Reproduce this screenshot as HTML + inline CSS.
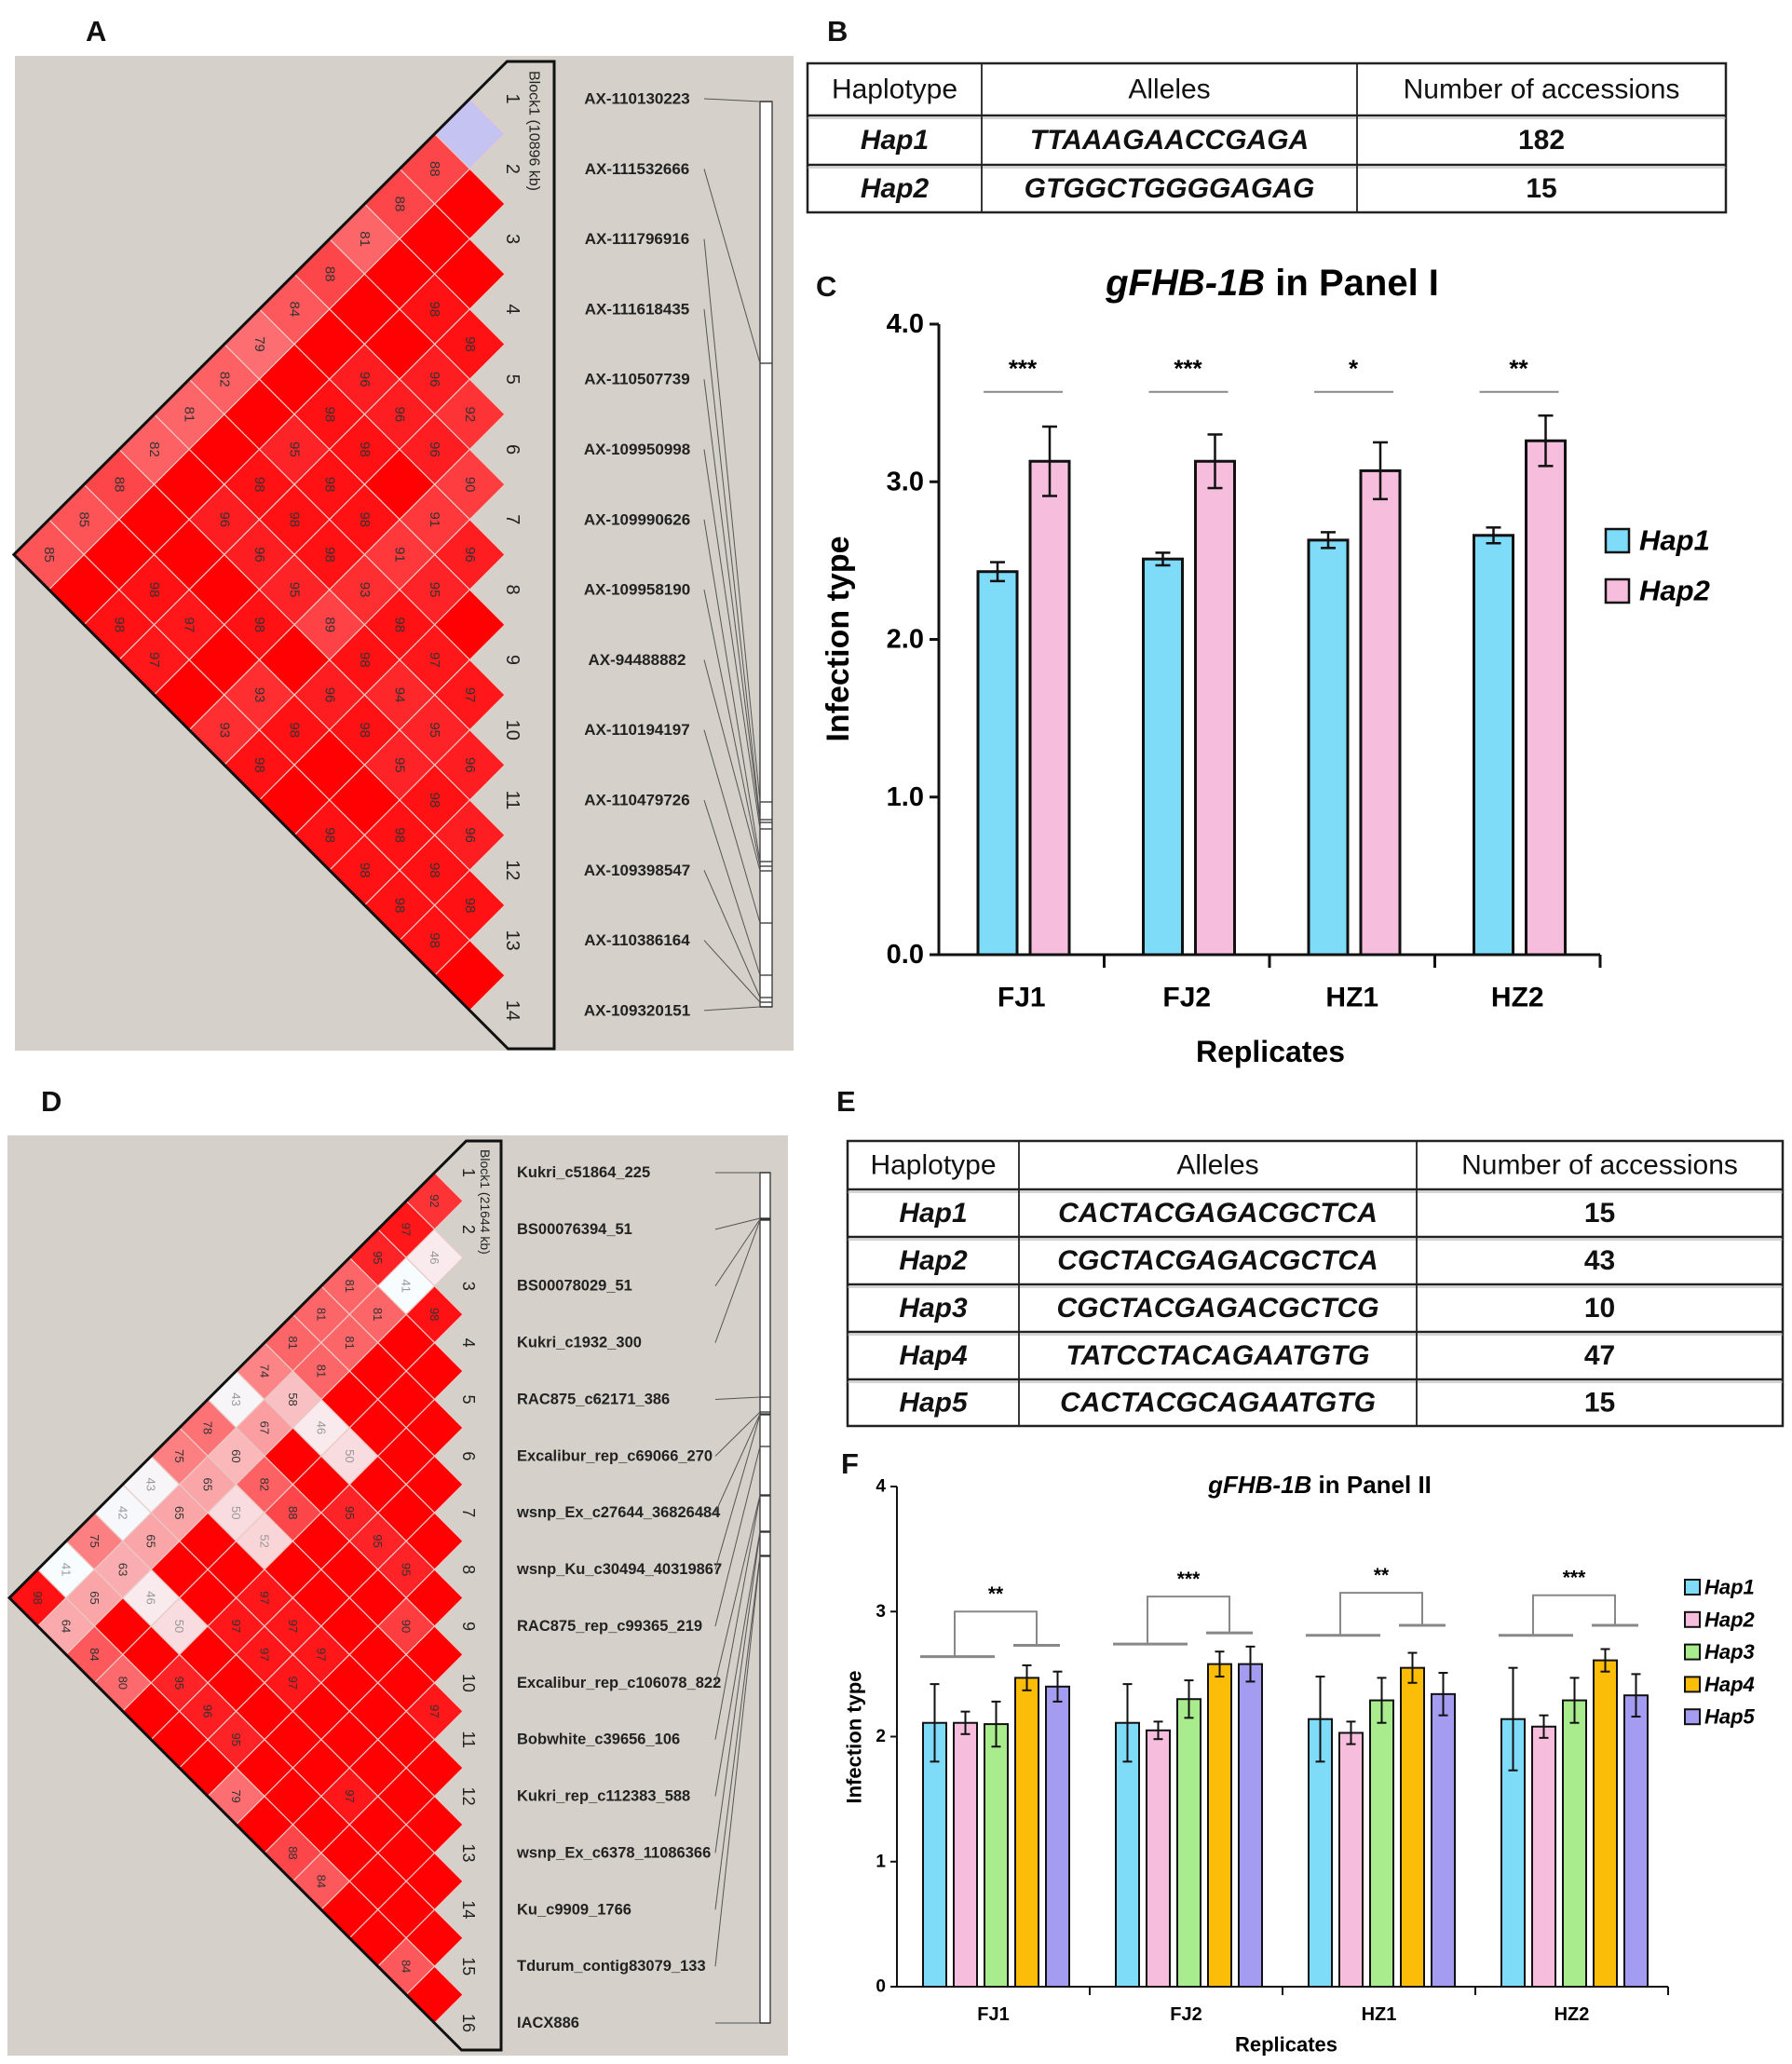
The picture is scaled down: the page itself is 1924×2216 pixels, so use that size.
<!DOCTYPE html>
<html><head><meta charset="utf-8">
<style>
html,body{margin:0;padding:0;background:#fff;}
svg{display:block;font-family:"Liberation Sans",Arial,sans-serif;}
</style></head>
<body>
<svg id="fig" width="1924" height="2216" viewBox="0 0 1924 2216" xmlns="http://www.w3.org/2000/svg">
<rect x="0" y="0" width="1924" height="2216" fill="#fff"/>
<g id="panelA"></g>
<g id="panelD"></g>
<g id="panelB"></g>
<g id="panelE"></g>
<g id="panelC"></g>
<g id="panelF"></g>
<g font-weight="bold" font-size="31" fill="#111">
<text x="92" y="44">A</text>
<text x="888" y="44">B</text>
<text x="876" y="318">C</text>
<text x="44" y="1193">D</text>
<text x="898" y="1193">E</text>
<text x="903" y="1582">F</text>
</g>
</svg>
<script>
const NS="http://www.w3.org/2000/svg";
// ---------- DATA ----------
const markersA=["AX-110130223","AX-111532666","AX-111796916","AX-111618435","AX-110507739","AX-109950998","AX-109990626","AX-109958190","AX-94488882","AX-110194197","AX-110479726","AX-109398547","AX-110386164","AX-109320151"];
const physA=[109,390,861,880,883,890,925,930,935,991,1047,1071,1076,1081];
const ldA=[[1,3,88],[1,4,88],[1,5,81],[1,6,88],[1,7,84],[1,8,79],[1,9,82],[1,10,81],[1,11,82],[1,12,88],[1,13,85],[1,14,85],
[3,5,98],[4,5,98],[3,7,96],[4,6,96],[5,6,92],[3,8,98],[4,7,96],[3,9,95],[4,8,98],[5,7,96],[3,10,98],[4,9,98],[6,7,90],
[3,11,96],[4,10,98],[5,9,98],[6,8,91],[4,11,96],[5,10,98],[6,9,91],[7,8,96],[3,13,98],[5,11,95],[6,10,93],[7,9,95],
[3,14,98],[4,13,97],[5,12,98],[6,11,89],[7,10,98],[4,14,97],[7,11,98],[8,10,97],[6,13,93],[7,12,96],[8,11,94],[9,10,97],
[6,14,93],[7,13,98],[8,12,98],[9,11,95],[7,14,98],[9,12,95],[10,11,96],[10,12,98],[9,14,98],[10,13,98],[11,12,96],
[10,14,98],[11,13,98],[11,14,98],[12,13,98],[12,14,98]];
const lowLodA=[[1,2]];
const markersD=["Kukri_c51864_225","BS00076394_51","BS00078029_51","Kukri_c1932_300","RAC875_c62171_386","Excalibur_rep_c69066_270","wsnp_Ex_c27644_36826484","wsnp_Ku_c30494_40319867","RAC875_rep_c99365_219","Excalibur_rep_c106078_822","Bobwhite_c39656_106","Kukri_rep_c112383_588","wsnp_Ex_c6378_11086366","Ku_c9909_1766","Tdurum_contig83079_133","IACX886"];
const physD=[1259,1308,1309,1310,1500,1516,1518,1519,1553,1605,1606,1644,1645,1670,1671,2172];
const ldD=[[1,2,92],[1,3,97],[2,3,46],[1,4,95],[1,5,81],[2,4,41],[1,6,81],[2,5,81],[3,4,98],[1,7,81],[2,6,81],[1,8,74],[2,7,81],
[1,9,43],[2,8,58],[1,10,78],[2,9,67],[3,8,46],[1,11,75],[2,10,60],[4,8,50],[1,12,43],[2,11,65],[3,10,82],[1,13,42],[2,12,65],
[3,11,50],[4,10,88],[5,9,95],[1,14,75],[2,13,65],[4,11,52],[6,9,95],[1,15,41],[2,14,63],[7,9,95],[1,16,98],[2,15,65],[3,14,46],
[5,12,97],[2,16,64],[4,14,50],[5,13,97],[6,12,97],[8,10,90],[3,16,84],[6,13,97],[7,12,97],[4,16,80],[5,15,95],[7,13,97],
[10,11,97],[6,15,96],[7,15,95],[8,16,79],[10,14,97],[10,16,88],[11,16,84],[14,16,84]];
const groups=["FJ1","FJ2","HZ1","HZ2"];
const cHap1=[2.43,2.51,2.63,2.66];
const cHap1Err=[0.06,0.04,0.05,0.05];
const cHap2=[3.13,3.13,3.07,3.26];
const cHap2Err=[0.22,0.17,0.18,0.16];
const cStars=["***","***","*","**"];
const cTicks=["0.0","1.0","2.0","3.0","4.0"];
const fHaps=["Hap1","Hap2","Hap3","Hap4","Hap5"];
const fVals=[[2.11,2.11,2.10,2.47,2.40],[2.11,2.05,2.30,2.58,2.58],[2.14,2.03,2.29,2.55,2.34],[2.14,2.08,2.29,2.61,2.33]];
const fErrs=[[0.31,0.09,0.18,0.10,0.12],[0.31,0.07,0.15,0.10,0.14],[0.34,0.09,0.18,0.12,0.17],[0.41,0.09,0.18,0.09,0.17]];
const fBrLeft=[2.64,2.74,2.81,2.81];
const fBrRight=[2.73,2.83,2.89,2.89];
const fBrTop=[3.00,3.12,3.15,3.13];
const fStars=["**","***","**","***"];
const fTicks=["0","1","2","3","4"];
const tableB=[["Hap1","TTAAAGAACCGAGA","182"],["Hap2","GTGGCTGGGGAGAG","15"]];
const tableE=[["Hap1","CACTACGAGACGCTCA","15"],["Hap2","CGCTACGAGACGCTCA","43"],["Hap3","CGCTACGAGACGCTCG","10"],["Hap4","TATCCTACAGAATGTG","47"],["Hap5","CACTACGCAGAATGTG","15"]];

const fColors=["#7fdcf8","#f6bddc","#a9ec8e","#fbbd08","#a39cf0"];

function el(parent,tag,attrs,text){const e=document.createElementNS(NS,tag);for(const k in attrs)e.setAttribute(k,attrs[k]);if(text!==undefined)e.textContent=text;parent.appendChild(e);return e;}

function ldColor(v){const t=Math.min(1,Math.max(0,(100-v)/60));const g=Math.round(255*Math.pow(t,0.8));const r=Math.round(255-8*t);return `rgb(${r},${g},${Math.min(255,g+3)})`;}

function drawLD(g,cfg){
  const n=cfg.markers.length,h=cfg.s/2;
  el(g,'rect',{x:cfg.bg[0],y:cfg.bg[1],width:cfg.bg[2],height:cfg.bg[3],fill:'#d5d1ca'});
  const yi=i=>cfg.y1+(i-1)*cfg.s;
  const map={};cfg.ld.forEach(d=>map[d[0]+'_'+d[1]]=d[2]);
  const low={};cfg.low.forEach(d=>low[d[0]+'_'+d[1]]=1);
  for(let i=1;i<n;i++)for(let j=i+1;j<=n;j++){
    const cx=cfg.xR-(j-i)*h,cy=(yi(i)+yi(j))/2;
    const v=map[i+'_'+j];const val=v===undefined?100:v;
    const fill=low[i+'_'+j]?'#c5c3f2':ldColor(val);
    const p=el(g,'polygon',{points:`${cx},${cy-h} ${cx+h},${cy} ${cx},${cy+h} ${cx-h},${cy}`,fill:fill,stroke:'#e9c9c4','stroke-width':1.2});
    
    
    if(v!==undefined){
      const t=el(g,'text',{x:cx,y:cy,'font-size':cfg.fs,fill:val<55?'#999':'#333','text-anchor':'middle','dominant-baseline':'central',transform:`rotate(90 ${cx} ${cy})`},String(v));
      
      
    }
  }
  const ax=cfg.xR-n*h,ay=(yi(1)+yi(n))/2;
  const tx=cfg.xR-h+(yi(1)-cfg.top),bx=cfg.xR-h+(cfg.bottom-yi(n));
  const o=el(g,'polygon',{points:`${ax},${ay} ${tx},${cfg.top} ${cfg.boxX},${cfg.top} ${cfg.boxX},${cfg.bottom} ${bx},${cfg.bottom}`,fill:'none',stroke:'#111','stroke-width':3});
  
  
  for(let i=1;i<=n;i++){
    const x=cfg.xR+cfg.numDx,y=yi(i);
    const t=el(g,'text',{x:x,y:y,'font-size':cfg.fs+5,fill:'#222','text-anchor':'middle','dominant-baseline':'central',transform:`rotate(90 ${x} ${y})`},String(i));
    
    
  }
  const bt=el(g,'text',{x:cfg.blockX,y:cfg.blockY,'font-size':cfg.fs+1,fill:'#222','dominant-baseline':'central',transform:`rotate(90 ${cfg.blockX} ${cfg.blockY})`},cfg.blockText);
  
  
  el(g,'rect',{x:cfg.barX,y:cfg.phys[0],width:cfg.barW,height:cfg.phys[n-1]-cfg.phys[0],fill:'#fff',stroke:'#333','stroke-width':1.3});
  for(let i=0;i<n;i++){
    const y=yi(i+1);
    const lab=el(g,'text',{x:cfg.labX,y:y,'font-size':cfg.labFs,'font-weight':'bold',fill:'#222','text-anchor':cfg.labAnchor,'dominant-baseline':'central'},cfg.markers[i]);
    
    
    const ln=el(g,'line',{x1:cfg.lineX,y1:y,x2:cfg.barX,y2:cfg.phys[i],stroke:'#555','stroke-width':1});
    
    
    el(g,'line',{x1:cfg.barX,y1:cfg.phys[i],x2:cfg.barX+cfg.barW,y2:cfg.phys[i],stroke:'#333','stroke-width':1.3});
  }
}
drawLD(document.getElementById('panelA'),{markers:markersA,ld:ldA,low:lowLodA,phys:physA,y1:106,s:75.3,xR:542,top:66,bottom:1126,boxX:595,
 bg:[16,60,836,1068],fs:15,numDx:8,blockX:573,blockY:76,blockText:"Block1 (10896 kb)",barX:816,barW:13,labX:684,labAnchor:'middle',labFs:17,lineX:756});
drawLD(document.getElementById('panelD'),{markers:markersD,ld:ldD,low:[],phys:physD,y1:1259,s:60.87,xR:497,top:1225,bottom:2201,boxX:538,
 bg:[8,1219,838,988],fs:13,numDx:6,blockX:521,blockY:1234,blockText:"Block1 (21644 kb)",barX:816,barW:11,labX:555,labAnchor:'start',labFs:16.5,lineX:768});

function drawTable(g,x0,x1,ys,cols,rows,fs){
  const head=["Haplotype","Alleles","Number of accessions"];
  const xs=[x0,...cols,x1];
  el(g,'rect',{x:x0,y:ys[0],width:x1-x0,height:ys[ys.length-1]-ys[0],fill:'#fff',stroke:'#222','stroke-width':2.5});
  ys.slice(1,-1).forEach(y=>{el(g,'line',{x1:x0,y1:y,x2:x1,y2:y,stroke:'#222','stroke-width':2.5});el(g,'line',{x1:x0,y1:y+3,x2:x1,y2:y+3,stroke:'#aaa','stroke-width':1});});
  cols.forEach(x=>el(g,'line',{x1:x,y1:ys[0],x2:x,y2:ys[ys.length-1],stroke:'#222','stroke-width':1.8}));
  const all=[head,...rows];
  all.forEach((r,ri)=>{
    const cy=(ys[ri]+ys[ri+1])/2;
    r.forEach((c,ci)=>{
      const t=el(g,'text',{x:(xs[ci]+xs[ci+1])/2,y:cy,'font-size':fs,'text-anchor':'middle','dominant-baseline':'central',fill:'#111',
        'font-style':(ri>0&&ci<2)?'italic':'normal','font-weight':ri>0?'bold':'normal'},c);
      
      
    });
  });
}
drawTable(document.getElementById('panelB'),867,1853,[68,124,177,228],[1054,1457],tableB,30);
drawTable(document.getElementById('panelE'),910,1914,[1225,1277,1328,1379,1430,1481,1531],[1094,1521],tableE,30);

(function(){
  const g=document.getElementById('panelC');
  const X0=1008,Y0=1025,Y4=348,GW=177.5;
  const y=v=>Y0-v*(Y0-Y4)/4;
  el(g,'text',{x:1366,y:304,'font-size':40,'font-weight':'bold','text-anchor':'middle','dominant-baseline':'central'}).innerHTML='<tspan font-style="italic">gFHB-1B</tspan> in Panel I';
  cTicks.forEach((t,i)=>{el(g,'line',{x1:X0-10,y1:y(i),x2:X0,y2:y(i),stroke:'#111','stroke-width':3});
    const tt=el(g,'text',{x:X0-16,y:y(i),'font-size':29,'font-weight':'bold','text-anchor':'end','dominant-baseline':'central'},t);
    });
  groups.forEach((gname,i)=>{
    const xg=X0+i*GW;
    [[cHap1,cHap1Err,'#7fdcf8',42],[cHap2,cHap2Err,'#f6bddc',98]].forEach(([vals,errs,col,off])=>{
      const b=el(g,'rect',{x:xg+off,y:y(vals[i]),width:42,height:Y0-y(vals[i]),fill:col,stroke:'#111','stroke-width':3});
      
      const cx=xg+off+21;
      el(g,'line',{x1:cx,y1:y(vals[i]+errs[i]),x2:cx,y2:y(vals[i]-errs[i]),stroke:'#111','stroke-width':2.5});
      el(g,'line',{x1:cx-8,y1:y(vals[i]+errs[i]),x2:cx+8,y2:y(vals[i]+errs[i]),stroke:'#111','stroke-width':2.5});
      el(g,'line',{x1:cx-8,y1:y(vals[i]-errs[i]),x2:cx+8,y2:y(vals[i]-errs[i]),stroke:'#111','stroke-width':2.5});
    });
    el(g,'line',{x1:xg+48,y1:y(3.57),x2:xg+133,y2:y(3.57),stroke:'#888','stroke-width':2});
    const s=el(g,'text',{x:xg+90,y:y(3.72),'font-size':26,'font-weight':'bold','text-anchor':'middle','dominant-baseline':'central'},cStars[i]);
    
    el(g,'line',{x1:xg+GW,y1:Y0,x2:xg+GW,y2:Y0+14,stroke:'#111','stroke-width':3});
    const xl=el(g,'text',{x:xg+GW/2,y:1071,'font-size':30,'font-weight':'bold','text-anchor':'middle','dominant-baseline':'central'},gname);
    
  });
  el(g,'line',{x1:X0,y1:Y4,x2:X0,y2:Y0,stroke:'#111','stroke-width':3});
  el(g,'line',{x1:X0,y1:Y0,x2:X0+4*GW,y2:Y0,stroke:'#111','stroke-width':3});
  const yl=el(g,'text',{x:900,y:686,'font-size':34,'font-weight':'bold','text-anchor':'middle','dominant-baseline':'central',transform:'rotate(-90 900 686)'},'Infection type');
  
  const xt=el(g,'text',{x:1364,y:1129,'font-size':32,'font-weight':'bold','text-anchor':'middle','dominant-baseline':'central'},'Replicates');
  
  [['Hap1','#7fdcf8',580],['Hap2','#f6bddc',634]].forEach(([n,c,yy])=>{
    const r=el(g,'rect',{x:1724,y:yy-12,width:25,height:25,fill:c,stroke:'#111','stroke-width':2.5});
    
    const t=el(g,'text',{x:1760,y:yy,'font-size':31,'font-weight':'bold','font-style':'italic','dominant-baseline':'central'},n);
    
  });
})();

(function(){
  const g=document.getElementById('panelF');
  const X0=963,Y0=2133,Y4=1596,GW=207;
  const y=v=>Y0-v*(Y0-Y4)/4;
  el(g,'text',{x:1417,y:1594,'font-size':26,'font-weight':'bold','text-anchor':'middle','dominant-baseline':'central'}).innerHTML='<tspan font-style="italic">gFHB-1B</tspan> in Panel II';
  fTicks.forEach((t,i)=>{el(g,'line',{x1:X0-7,y1:y(i),x2:X0,y2:y(i),stroke:'#111','stroke-width':2});
    const tt=el(g,'text',{x:X0-12,y:y(i),'font-size':19,'font-weight':'bold','text-anchor':'end','dominant-baseline':'central'},t);
    });
  groups.forEach((gname,i)=>{
    const xg=X0+i*GW;
    fVals[i].forEach((v,k)=>{
      const bx=xg+28+k*33;
      const b=el(g,'rect',{x:bx,y:y(v),width:25,height:Y0-y(v),fill:fColors[k],stroke:'#111','stroke-width':2});
      
      const cx=bx+12.5,e=fErrs[i][k];
      el(g,'line',{x1:cx,y1:y(v+e),x2:cx,y2:y(v-e),stroke:'#111','stroke-width':2});
      el(g,'line',{x1:cx-5,y1:y(v+e),x2:cx+5,y2:y(v+e),stroke:'#111','stroke-width':2});
      el(g,'line',{x1:cx-5,y1:y(v-e),x2:cx+5,y2:y(v-e),stroke:'#111','stroke-width':2});
    });
    const st={stroke:'#888','stroke-width':3};
    el(g,'line',Object.assign({x1:xg+25,y1:y(fBrLeft[i]),x2:xg+105,y2:y(fBrLeft[i])},st));
    el(g,'line',Object.assign({x1:xg+125,y1:y(fBrRight[i]),x2:xg+175,y2:y(fBrRight[i])},st));
    const br=el(g,'polyline',{points:`${xg+62},${y(fBrLeft[i])} ${xg+62},${y(fBrTop[i])} ${xg+150},${y(fBrTop[i])} ${xg+150},${y(fBrRight[i])}`,fill:'none',stroke:'#888','stroke-width':2});
    
    const s=el(g,'text',{x:xg+106,y:y(fBrTop[i]+0.14),'font-size':21,'font-weight':'bold','text-anchor':'middle','dominant-baseline':'central'},fStars[i]);
    
    el(g,'line',{x1:xg+GW,y1:Y0,x2:xg+GW,y2:Y0+9,stroke:'#111','stroke-width':2});
    const xl=el(g,'text',{x:xg+GW/2,y:2163,'font-size':20,'font-weight':'bold','text-anchor':'middle','dominant-baseline':'central'},gname);
    
  });
  el(g,'line',{x1:X0,y1:Y4,x2:X0,y2:Y0,stroke:'#111','stroke-width':2});
  el(g,'line',{x1:X0,y1:Y0,x2:X0+4*GW,y2:Y0,stroke:'#111','stroke-width':2});
  const yl=el(g,'text',{x:917,y:1865,'font-size':22,'font-weight':'bold','text-anchor':'middle','dominant-baseline':'central',transform:'rotate(-90 917 1865)'},'Infection type');
  
  const xt=el(g,'text',{x:1381,y:2195,'font-size':22,'font-weight':'bold','text-anchor':'middle','dominant-baseline':'central'},'Replicates');
  
  fHaps.forEach((n,k)=>{
    const yy=1704+k*34.8;
    const r=el(g,'rect',{x:1809,y:yy-8,width:16,height:16,fill:fColors[k],stroke:'#111','stroke-width':2});
    
    const t=el(g,'text',{x:1830,y:yy,'font-size':22,'font-weight':'bold','font-style':'italic','dominant-baseline':'central'},n);
    
  });
})();
</script>
</body></html>
